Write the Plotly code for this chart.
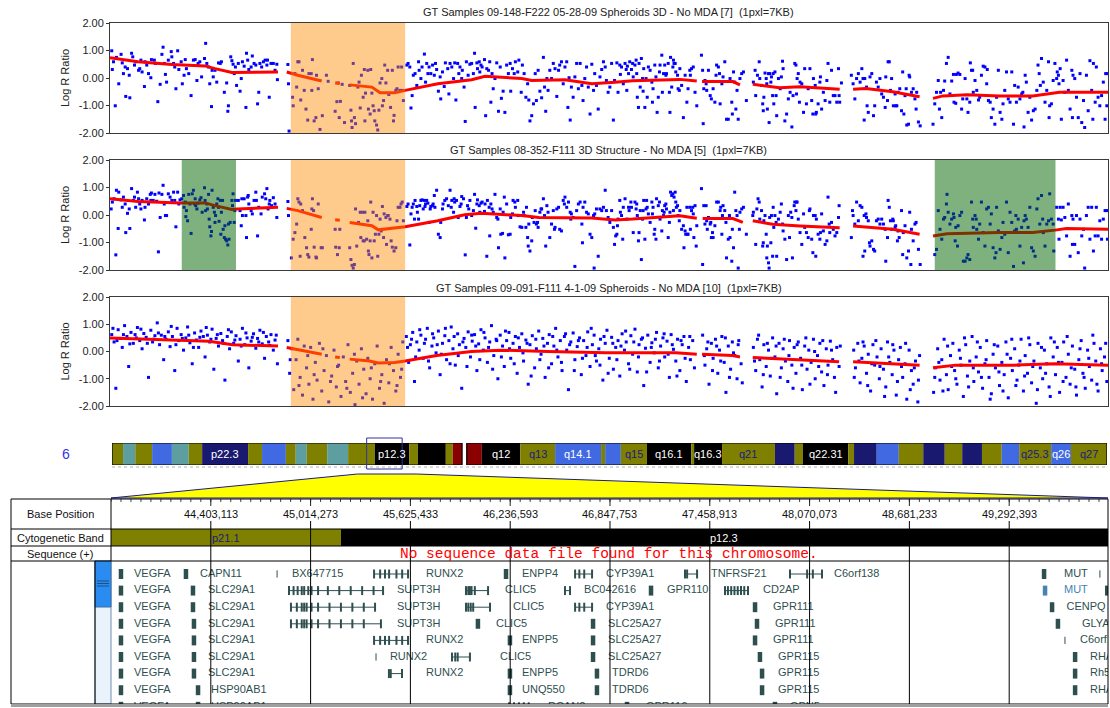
import plotly.graph_objects as go

W, H = 1110, 708


def fx(px):
    return px / W


def fy(py):
    return 1 - py / H


FONT = "Liberation Sans, Arial, sans-serif"
CHROM_LEN = 171.1          # chromosome 6, Mb
VIEW_START = 43.791953     # zoomed window, Mb
VIEW_END = 49.8975
TICK_FIRST = 44403113      # base-position ruler, bp
TICK_STEP = 611160
N_TICKS = 9

sample_titles = [
    "GT Samples 09-148-F222 05-28-09 Spheroids 3D - No MDA [7]\u00a0\u00a0(1pxl=7KB)",
    "GT Samples 08-352-F111 3D Structure - No MDA [5]\u00a0\u00a0(1pxl=7KB)",
    "GT Samples 09-091-F111 4-1-09 Spheroids - No MDA [10]\u00a0\u00a0(1pxl=7KB)",
]

# ---- probe log R ratios: (position Mb, log R) ----
sample1_points = [
    (0.3,0.99),(0.4,0.31),(0.6,0.59),(0.9,-1.01),(1.1,0.75),(1.5,-0.21),(1.9,0.86),(2.1,0.55),(2.3,0.16),(2.6,0.40),
    (2.7,-0.67),(3.0,0.34),(3.3,0.10),(3.4,-0.72),(3.7,0.90),(3.9,0.77),(4.2,0.47),(4.4,0.59),(4.9,0.28),(5.1,0.34),
    (5.3,0.65),(5.5,0.22),(5.9,-0.31),(6.0,0.59),(6.3,0.47),(6.6,0.16),(7.0,0.01),(7.1,0.67),(7.6,0.65),(7.8,0.53),
    (8.2,-0.86),(8.6,-0.23),(8.9,0.86),(9.1,1.12),(9.3,0.53),(9.5,0.13),(9.7,-0.15),(10.0,0.65),(10.5,0.96),(10.6,0.77),
    (10.9,0.53),(11.1,0.40),(11.3,-0.39),(11.6,0.99),(11.8,0.31),(12.2,0.59),(12.4,-0.21),(12.7,0.10),(12.9,0.67),(13.1,0.34),
    (13.5,0.16),(13.9,-0.64),(14.3,0.65),(14.6,0.67),(14.9,-0.09),(15.1,0.53),(15.4,0.59),(15.7,0.04),(16.2,0.71),(16.4,1.26),
    (16.6,0.53),(16.9,0.40),(17.1,-0.21),(17.4,-1.04),(17.5,0.28),(17.7,0.04),(18.0,0.28),(18.3,-0.15),(18.6,0.55),(18.9,0.53),
    (19.1,0.59),(19.6,-0.52),(20.0,-0.18),(20.2,-1.21),(20.3,-1.01),(20.7,0.77),(20.9,0.63),(21.1,0.50),(21.3,0.16),(21.5,0.40),
    (21.7,-0.27),(22.0,0.53),(22.3,-0.48),(22.5,-0.02),(22.7,0.59),(23.0,0.43),(23.3,-1.07),(23.4,0.90),(23.6,0.65),(23.8,0.31),
    (24.2,0.40),(24.4,0.80),(24.7,0.53),(25.0,0.47),(25.3,-0.94),(25.5,-0.52),(25.7,0.53),(26.0,0.40),(26.3,0.59),(26.6,0.65),
    (26.9,0.47),(27.0,0.65),(27.3,-0.70),(27.6,0.53),(28.0,0.53),(28.3,0.28),(28.6,0.50),(28.7,-0.06),
    (30.5,0.49),(30.6,-0.21),(30.7,-1.93),(31.3,-0.70),(31.4,-1.01),(31.7,0.16),(32.0,-0.33),(32.2,0.59),(32.4,0.59),(32.7,-0.80),
    (33.0,0.28),(33.3,-0.45),(33.6,-1.13),(33.9,-1.53),(34.1,0.16),(34.5,0.16),(34.6,-0.45),(34.7,0.67),(35.0,-1.56),(35.3,-1.44),
    (35.4,0.10),(35.7,-0.39),(36.0,-1.87),(36.4,-1.37),(37.1,0.10),(37.4,-0.12),(38.6,-1.21),(38.9,-0.86),(39.1,-0.18),(39.3,-1.44),
    (39.5,-0.85),(39.8,-0.23),(40.2,-1.62),(41.1,-0.27),(41.3,-1.17),(41.4,-1.56),(41.5,-1.80),(41.7,0.53),(41.9,-1.44),(42.1,-1.66),
    (42.5,-0.33),(42.7,-0.15),(42.9,-1.09),(43.1,0.10),(43.4,-0.70),(43.6,0.31),(43.7,-1.56),(43.8,-0.55),(44.2,0.28),(44.3,-1.13),
    (44.6,-1.31),(44.7,0.31),(44.9,-0.55),(45.1,-1.01),(45.3,-1.19),(45.4,-1.56),(45.7,-1.71),(45.9,-1.89),(46.1,-1.17),(46.3,-0.18),
    (46.6,-0.02),(46.7,-1.01),(46.9,-0.82),(47.1,0.47),(47.3,-0.18),(47.6,0.28),(47.8,-0.60),(48.1,-1.07),(48.4,0.28),(48.6,-1.56),
    (48.7,-1.36),(49.0,-0.45),(49.2,-0.39),(49.4,0.40),(49.7,-0.45),(50.0,0.40),(50.1,-0.45),(50.3,-0.82),
    (50.9,0.47),(51.1,0.53),(51.4,0.40),(51.6,-1.09),(51.8,-0.64),(52.0,0.10),(52.3,0.16),(52.6,-0.27),(52.9,0.59),(53.0,0.28),
    (53.3,-0.02),(53.5,0.40),(53.9,0.87),(54.1,-0.15),(54.3,0.53),(54.5,0.16),(54.7,0.40),(55.0,0.16),(55.3,0.47),(55.6,0.10),
    (55.8,0.53),(56.0,0.31),(56.3,-0.48),(56.6,0.04),(56.7,-0.76),(57.0,0.22),(57.3,-0.31),(57.5,0.55),(57.9,0.34),(58.1,-0.58),
    (58.3,0.53),(58.6,0.40),(58.9,-0.02),(59.1,0.55),(59.3,-0.80),(59.6,0.53),(59.8,0.16),(60.0,0.40),(60.3,-0.02),(60.4,0.28),
    (60.7,-0.33),(60.9,-1.58),(61.1,0.59),(61.4,0.10),(61.7,0.50),(62.0,0.53),(62.3,0.16),(62.5,0.90),(62.6,-1.07),(62.9,0.55),
    (63.0,0.34),(63.3,0.59),(63.4,0.22),(63.6,0.47),(63.8,0.40),(64.2,0.67),(64.4,-1.37),(64.6,0.34),(64.9,0.28),(65.1,0.59),
    (65.3,-0.88),(65.5,0.16),(65.7,-0.39),(66.0,-0.02),(66.3,0.55),(66.6,-1.21),(66.9,0.40),(67.1,-0.74),(67.4,-0.48),(67.7,-1.25),
    (68.0,0.47),(68.3,0.16),(68.6,0.53),(68.7,-0.48),(69.0,0.34),(69.3,0.16),(69.5,0.59),(69.9,0.22),(70.1,0.65),(70.5,-0.52),
    (70.7,0.47),(71.0,0.16),(71.3,-0.70),(71.6,-0.21),(71.8,-0.80),(72.0,-1.56),(72.3,-1.37),(72.6,-0.94),(72.9,0.16),(73.1,-0.82),
    (73.4,0.28),(73.7,-0.48),(74.0,-0.72),(74.3,0.75),(74.5,-0.33),(74.7,-1.21),(74.9,-0.02),(75.1,-0.45),(75.4,0.28),(75.7,-0.02),
    (76.0,0.53),(76.3,0.34),(76.6,-0.67),(76.9,0.28),(77.1,0.47),(77.4,0.59),(77.7,-0.21),(78.0,0.40),(78.3,0.59),(78.5,-1.07),
    (78.7,0.01),(78.9,-1.53),(79.1,-0.33),(79.4,-0.70),(79.7,0.04),(80.0,0.53),(80.3,-0.39),(80.6,0.53),(80.9,-0.27),(81.1,-0.82),
    (81.4,-0.02),(81.7,0.40),(82.0,-0.33),(82.3,-1.31),(82.6,0.50),(82.9,-0.45),(83.1,0.16),(83.4,-0.27),(83.7,-1.13),(84.0,0.04),
    (84.3,0.31),(84.6,0.59),(84.9,0.40),(85.1,-0.09),(85.4,-0.52),(85.7,-0.33),(86.0,0.53),(86.3,-1.53),(86.5,-0.09),
    (86.9,0.55),(87.1,-0.52),(87.4,0.47),(87.5,0.13),(87.7,0.40),(88.0,-0.21),(88.3,0.53),(88.5,0.31),(88.6,-0.45),(88.7,0.43),
    (88.9,0.16),(89.1,0.59),(89.4,0.31),(89.6,0.53),(89.7,0.04),(90.0,0.47),(90.2,0.65),(90.3,0.16),(90.4,-0.70),(90.6,-1.07),
    (90.7,0.53),(90.9,-0.33),(91.1,0.71),(91.3,-0.02),(91.4,-0.48),(91.5,0.34),(91.7,-1.07),(91.9,-0.02),(92.1,-0.70),(92.3,0.40),
    (92.6,0.28),(92.9,-0.15),(93.0,-0.88),(93.1,-0.39),(93.4,0.47),(93.6,0.04),(93.8,-1.25),(94.0,-0.70),(94.2,0.22),(94.3,0.47),
    (94.6,0.83),(94.7,-0.52),(94.9,0.16),(95.1,0.47),(95.3,0.10),(95.4,0.16),(95.7,0.53),(95.9,-0.52),(96.0,-1.25),(96.1,0.75),
    (96.3,-0.33),(96.5,0.40),(96.6,0.65),(96.7,0.53),(96.9,0.53),(97.0,0.22),(97.3,0.10),(97.4,-0.39),(97.6,-0.45),(97.7,0.34),
    (98.0,-0.27),(98.3,-1.44),(98.6,0.10),(98.9,-0.88),(99.1,-0.39),(99.4,0.28),(99.5,0.10),(99.7,0.34),(100.0,0.40),(100.3,-0.52),
    (100.6,-1.01),(101.4,0.83),(101.6,0.28),(101.7,-1.66),(101.8,-0.39),(102.0,-0.09),(102.2,-0.21),(102.3,-0.45),(102.6,0.28),(102.9,-0.64),
    (103.1,-0.76),(103.4,-0.39),(103.7,-0.88),(103.9,0.10),(104.0,0.47),(104.3,0.40),(104.5,0.16),(104.6,-0.94),(104.9,-0.21),(105.1,0.04),
    (105.4,0.59),(105.7,-1.50),(106.0,-1.50),(106.3,-0.02),(106.6,-0.88),(106.7,-1.31),(106.9,0.22),(107.1,-0.15),(107.3,-1.13),(107.5,-0.45),
    (107.7,-1.50),(108.0,-0.02),(108.3,0.16),(108.6,0.22),(109.1,-0.82),(110.3,-0.15),(110.6,0.28),(110.7,-0.64),(111.0,0.10),(111.3,0.59),
    (111.4,-0.02),(111.7,-0.27),(111.9,-0.94),(112.0,-1.19),(112.1,-0.70),(112.3,0.18),(112.5,-0.02),(112.6,-0.21),(112.7,-1.13),(112.9,0.16),
    (113.0,-1.62),(113.1,0.16),(113.3,-0.15),(113.4,0.04),(113.6,-0.64),(113.7,0.16),(113.8,-0.94),(114.0,0.22),(114.2,-0.64),(114.3,-1.37),
    (114.6,-0.02),(114.9,-0.39),(115.1,0.04),(115.3,0.61),(115.4,0.34),(115.7,-1.56),(116.0,-1.31),(116.3,-0.76),(116.6,-0.52),(116.9,-1.78),
    (117.1,-0.64),(117.4,0.53),(117.6,0.47),(117.7,-0.58),(117.8,-0.02),(118.0,0.16),(118.2,-0.88),(118.3,-0.15),(118.6,-0.21),(118.9,-1.25),
    (119.1,0.34),(119.4,-0.94),(119.7,-0.39),(120.0,0.34),(120.3,-0.82),(120.5,-1.31),(120.6,-0.02),(120.9,-0.27),(121.0,-1.31),(121.1,-1.25),
    (121.4,-0.94),(121.7,-0.15),(121.8,0.04),(122.0,-1.13),(122.3,-0.52),(122.6,-0.82),(122.9,-0.09),(123.1,0.53),(123.4,-0.88),(123.7,0.28),
    (124.0,-0.64),(124.3,-0.64),(124.6,-0.88),(124.9,0.34),(125.0,-0.64),(125.1,-0.88),(125.4,-0.18),
    (127.1,0.10),(127.4,-0.21),(127.7,-0.76),(128.0,-0.02),(128.3,0.16),(128.6,-0.15),(128.9,0.34),(129.1,-0.02),(129.3,-1.53),(129.4,-0.02),
    (129.7,-0.33),(129.8,-1.01),(130.0,-1.25),(130.3,0.04),(130.6,0.16),(130.9,-1.37),(131.1,-1.01),(131.4,-0.15),(131.7,-0.33),(132.0,-0.02),
    (132.3,-0.58),(132.6,-0.70),(132.9,-1.07),(133.0,0.04),(133.3,-0.82),(133.4,0.59),(133.6,0.59),(133.8,-0.45),(134.0,-0.02),(134.3,-1.01),
    (134.6,-0.58),(134.7,-1.01),(134.9,-1.01),(135.1,-0.52),(135.4,-0.39),(135.7,-1.19),(135.9,0.22),(136.1,-1.31),(136.3,-0.64),(136.5,-0.39),
    (136.6,-1.71),(136.9,-1.68),(137.0,0.10),(137.1,0.04),(137.4,-0.52),(137.7,-0.39),(138.0,-0.76),(138.2,-1.13),(138.3,-0.52),(138.6,-1.60),
    (138.9,-1.74),(141.1,-1.68),(141.4,-0.94),(141.7,-0.52),(142.0,-0.09),(142.2,-1.13),(142.4,-0.52),(142.6,-1.44),(142.9,-0.45),(143.1,-0.11),
    (143.4,0.53),(143.7,0.75),(144.0,-0.58),(144.3,-0.11),(144.6,0.13),(144.7,-0.88),(145.0,-0.92),(145.1,0.13),(145.4,0.18),(145.7,0.13),
    (146.0,-1.13),(146.2,-0.76),(146.6,-0.02),(146.9,-0.76),(147.1,-1.25),(147.4,-0.88),(147.5,0.55),(147.7,0.28),(147.9,0.28),(148.0,-0.52),
    (148.3,-0.09),(148.6,-0.45),(148.9,-0.80),(149.1,-0.70),(149.4,0.10),(149.7,0.43),(150.0,0.40),(150.3,-0.21),(150.4,0.31),(150.6,-0.82),
    (150.9,-0.88),(151.1,-1.44),(151.4,-1.13),(151.7,-1.68),(152.0,-0.70),(152.3,0.28),(152.6,-1.25),(152.9,-1.50),(153.1,-0.94),(153.4,-0.45),
    (153.7,0.22),(154.0,-0.76),(154.3,-0.88),(154.6,0.22),(154.9,-1.68),(155.1,-0.27),(155.4,-0.88),(155.7,-0.33),(156.0,-0.76),(156.3,-0.58),
    (156.5,-0.52),(156.7,-1.78),(156.9,0.10),(157.1,-0.15),(157.4,-1.25),(157.7,-0.70),(158.0,-1.53),(158.3,-1.19),(158.6,-1.13),(158.9,-0.45),
    (159.1,0.47),(159.3,0.16),(159.5,-0.27),(159.7,0.71),(160.0,-0.15),(160.3,-0.88),(160.6,-0.45),(160.9,0.59),(161.0,-1.44),(161.1,-1.01),
    (161.4,-0.94),(161.7,-0.09),(162.0,0.53),(162.3,-0.02),(162.4,0.22),(162.6,0.10),(162.7,-0.21),(162.9,0.34),(163.1,-1.50),(163.4,-0.09),
    (163.7,-0.52),(164.0,0.65),(164.3,-0.45),(164.6,-1.13),(164.9,0.28),(165.0,-1.44),(165.1,0.10),(165.4,-0.02),(165.7,-0.70),(166.0,-1.44),
    (166.3,0.16),(166.6,-1.62),(166.9,-0.82),(167.1,-1.80),(167.4,0.10),(167.7,-1.19),(168.0,0.63),(168.3,-0.45),(168.5,-1.50),(168.6,0.53),
    (168.9,-0.88),(169.1,0.40),(169.4,-0.70),(169.7,-1.01),(170.0,-0.64),(170.3,-0.15),(170.6,-1.50),(170.7,0.16),(170.9,-1.01),(171.0,0.16),
]

sample2_points = [
    (0.2,0.22),(0.4,0.47),(0.7,0.59),(1.0,-1.45),(1.1,0.90),(1.4,-0.49),(1.5,0.83),(1.9,0.55),(2.1,0.28),(2.3,0.65),
    (2.6,0.40),(2.7,-0.64),(3.0,0.06),(3.3,0.22),(3.4,-0.49),(3.7,0.96),(4.0,0.53),(4.2,0.65),(4.4,0.28),(4.7,0.83),
    (4.9,0.59),(5.1,0.40),(5.3,0.22),(5.5,0.53),(5.9,-0.18),(6.0,0.28),(6.3,0.59),(6.6,0.40),(6.9,0.75),(7.0,0.53),
    (7.1,0.80),(7.4,0.53),(7.7,0.75),(8.0,0.50),(8.3,-1.34),(8.4,0.80),(8.6,-0.09),(8.9,0.75),(9.1,1.08),(9.3,0.40),
    (9.5,-0.02),(9.7,-0.02),(10.0,0.77),(10.3,0.65),(10.6,0.53),(10.9,0.83),(11.1,0.53),(11.3,-0.43),(11.6,0.83),(11.8,0.40),
    (12.0,0.55),(12.3,0.59),(12.6,0.71),(12.7,0.28),(12.9,0.47),(13.0,-0.06),(13.1,0.16),(13.3,-0.21),(13.5,0.75),(13.7,0.40),
    (13.9,-0.67),(14.1,0.77),(14.3,0.90),(14.5,0.40),(14.6,0.59),(14.7,0.34),(14.9,0.22),(15.1,0.43),(15.4,0.55),(15.6,0.63),
    (15.8,0.10),(16.2,0.99),(16.3,0.53),(16.4,0.16),(16.6,0.40),(16.7,0.22),(16.9,0.75),(17.0,-0.15),(17.1,-0.43),(17.3,-0.76),
    (17.4,-0.60),(17.5,0.90),(17.7,0.28),(17.9,0.10),(18.0,-0.27),(18.1,-0.02),(18.3,0.40),(18.5,0.59),(18.6,0.28),(18.7,-0.23),
    (18.9,0.53),(19.0,-0.70),(19.1,0.10),(19.3,0.53),(19.4,-0.52),(19.6,-0.82),(19.7,-0.39),(19.8,-0.88),(20.0,-0.94),(20.2,-1.09),
    (20.3,-0.33),(20.4,-0.88),(20.6,-0.27),(20.9,0.53),(21.0,0.34),(21.1,0.77),(21.3,-0.27),(21.4,0.16),(21.5,0.53),
    (22.0,0.53),(22.3,0.16),(22.5,-0.39),(22.6,0.59),(22.7,-0.02),(23.0,0.59),(23.3,-0.02),(23.4,-0.82),(23.6,0.65),(23.7,0.71),
    (23.8,0.40),(24.2,0.16),(24.4,0.04),(24.7,0.53),(25.0,0.83),(25.1,0.53),(25.3,-0.76),(25.5,0.28),(25.9,0.04),(26.1,0.65),
    (26.5,0.77),(26.7,0.59),(26.9,0.96),(27.1,0.22),(27.3,0.40),(27.4,0.53),(27.7,0.34),(28.0,0.63),(28.3,0.40),(28.6,-0.09),
    (30.5,0.49),(30.6,-0.02),(31.1,-1.56),(31.4,-0.88),(31.7,-0.64),(32.0,-0.33),(32.2,0.59),(32.4,0.47),(32.6,-1.50),(32.7,0.40),
    (33.0,0.16),(33.4,-0.82),(33.7,-1.19),(33.9,-1.44),(34.1,-1.53),(34.5,-0.52),(34.6,0.22),(34.7,0.59),(34.9,0.16),(35.0,-1.17),
    (35.3,-1.53),(35.4,-1.56),(35.7,0.40),(36.2,-1.19),(36.4,-1.19),(38.6,-0.52),(38.7,-1.17),(39.0,-1.44),(39.3,-1.19),(39.4,-0.52),
    (41.1,-1.19),(41.3,-1.62),(41.5,-1.83),(41.7,-1.93),(41.9,-1.80),(42.1,0.22),(42.3,-1.13),(42.6,-0.27),(42.9,0.10),(43.0,-0.82),
    (43.3,0.10),(43.4,-0.94),(43.6,-0.94),(43.7,0.10),(44.0,-0.88),(44.2,-0.21),(44.3,-1.31),(44.4,-1.44),(44.6,-0.94),(44.7,0.47),
    (44.9,-1.56),(45.1,0.10),(45.3,-0.94),(45.5,-0.70),(45.7,-0.02),(45.9,-1.50),(46.1,-0.70),(46.3,-0.15),(46.5,-0.58),(46.7,0.31),
    (46.9,-0.82),(47.0,0.04),(47.3,-0.09),(47.4,-1.07),(47.6,-0.02),(47.7,-0.02),(48.0,-0.15),(48.2,-0.94),(48.4,-1.17),(48.7,-1.31),
    (49.0,-1.19),(49.2,-0.21),(49.4,0.28),(49.7,0.28),(49.9,0.40),(50.1,0.47),(50.3,-0.21),
    (50.9,0.31),(51.1,0.40),(51.4,-1.09),(51.6,0.04),(51.8,0.28),(52.0,0.40),(52.2,-0.15),(52.3,0.53),(52.6,0.31),(52.7,0.10),
    (52.9,-0.15),(53.1,0.34),(53.3,0.53),(53.5,0.55),(53.7,0.22),(53.9,0.53),(54.0,0.31),(54.1,0.40),(54.3,0.53),(54.5,0.43),
    (54.7,-0.27),(54.9,0.22),(55.0,0.31),(55.3,0.34),(55.4,0.40),(55.6,0.71),(55.7,0.28),(56.0,0.90),(56.3,-0.70),(56.6,-0.82),
    (56.7,-0.27),(57.0,0.22),(57.1,0.40),(57.4,0.53),(57.7,0.59),(58.0,0.34),(58.3,0.90),(58.5,0.28),(58.6,0.53),(58.9,0.10),
    (59.0,0.59),(59.1,0.47),(59.4,0.53),(59.7,-0.09),(60.0,0.31),(60.2,0.40),(60.3,0.67),(60.6,0.59),(60.9,-1.45),(61.1,-0.09),
    (61.3,0.34),(61.5,0.22),(61.7,0.53),(62.0,-0.02),(62.3,0.16),(62.5,0.75),(62.7,-0.48),(62.9,0.40),(63.0,0.55),(63.3,0.34),
    (63.4,0.10),(63.6,0.43),(63.8,0.47),(64.2,0.13),(64.3,0.40),(64.6,-1.50),(64.7,0.53),(65.0,0.28),(65.1,-0.76),(65.3,0.40),
    (65.5,0.22),(65.7,0.10),(66.0,0.75),(66.3,-0.09),(66.5,-0.15),(66.6,-1.19),(66.9,0.22),(67.0,-0.70),(67.3,-0.67),(67.4,0.10),
    (67.6,0.65),(67.7,-1.56),(68.0,0.40),(68.3,-0.72),(68.6,-0.70),(68.7,-0.09),(69.0,0.04),(69.1,0.53),(69.4,0.47),(69.5,0.28),
    (69.9,0.53),(70.0,-0.02),(70.3,-0.43),(70.6,-0.45),(70.9,0.10),(71.0,-0.02),(71.3,-0.45),(71.4,0.28),(71.6,-0.82),(71.7,-1.13),
    (71.8,-0.33),(72.0,-1.31),(72.3,-0.94),(72.4,-0.09),(72.7,-0.27),(72.9,0.16),(73.1,-0.33),(73.3,-0.27),(73.4,-0.45),(73.7,0.10),
    (73.9,0.22),(74.0,0.22),(74.3,0.59),(74.5,-0.02),(74.7,-1.13),(74.9,0.34),(75.1,0.10),(75.4,-0.82),(75.7,-0.33),(76.0,0.16),
    (76.2,-0.52),(76.3,-0.45),(76.6,0.22),(76.9,0.28),(77.1,-0.52),(77.4,-0.58),(77.7,0.53),(77.9,0.40),(78.0,0.65),(78.3,0.28),
    (78.6,0.47),(78.9,0.10),(79.0,-0.15),(79.1,0.04),(79.4,-0.09),(79.7,-1.87),(80.0,0.16),(80.3,0.40),(80.6,0.47),(80.9,-0.33),
    (81.0,-1.01),(81.1,0.28),(81.4,0.47),(81.7,0.10),(82.0,0.04),(82.3,-0.70),(82.6,-0.82),(82.9,-0.02),(83.0,-1.93),(83.1,0.04),
    (83.4,0.22),(83.7,-1.50),(84.0,0.22),(84.3,0.16),(84.6,0.28),(84.9,0.90),(85.1,0.16),(85.4,-0.09),(85.7,-0.27),(86.0,0.16),
    (86.3,-0.45),(86.5,-1.07),(86.7,-0.76),(86.9,-0.70),(87.0,-0.39),(87.1,-0.15),(87.4,0.53),(87.5,0.10),(87.7,-0.02),(87.9,-0.88),
    (88.0,0.28),(88.3,0.59),(88.6,-0.15),(88.9,0.28),(89.0,0.16),(89.3,0.47),(89.4,0.28),(89.7,-0.64),(90.0,0.47),(90.2,0.22),
    (90.3,0.40),(90.4,-0.02),(90.6,-0.94),(90.7,-0.64),(90.9,0.16),(91.1,-1.62),(91.3,-0.15),(91.4,0.16),(91.5,0.53),(91.7,-0.88),
    (91.9,0.22),(92.0,0.53),(92.1,0.28),(92.3,0.04),(92.6,-0.27),(92.9,0.47),(93.0,0.04),(93.1,0.28),(93.3,-0.70),(93.4,-0.52),
    (93.6,-0.88),(93.7,0.59),(94.0,0.34),(94.2,0.47),(94.3,-0.15),(94.6,-0.58),(94.7,0.16),(94.9,-0.02),(95.0,0.10),(95.1,0.34),
    (95.3,0.40),(95.4,0.22),(95.7,-0.82),(95.9,-0.27),(96.0,0.10),(96.1,0.83),(96.3,0.71),(96.5,0.77),(96.6,0.16),(96.7,0.65),
    (96.9,0.83),(97.0,0.47),(97.1,0.28),(97.3,0.34),(97.4,-0.02),(97.6,-0.21),(97.7,0.16),(98.0,-0.52),(98.3,-0.39),(98.4,-1.19),
    (98.6,-0.58),(98.7,-0.70),(98.9,0.28),(99.0,-0.70),(99.1,-0.70),(99.4,0.28),(99.5,-0.52),(99.7,0.16),(99.9,0.28),(100.0,0.04),
    (100.1,-0.82),(100.3,0.34),(100.5,-1.13),(100.6,-0.39),(101.4,0.96),(101.6,-1.80),(101.8,0.34),(102.0,-0.33),(102.2,0.34),(102.3,-0.21),
    (102.4,-0.52),(102.6,-0.09),(102.9,-0.33),(103.0,-0.27),(103.1,-0.82),(103.3,-0.64),(103.4,-0.82),(103.7,-0.39),(104.0,0.47),(104.3,0.47),
    (104.6,0.16),(104.7,0.28),(104.9,-0.70),(105.0,-0.02),(105.1,0.34),(105.4,0.16),(105.6,-0.27),(105.7,-1.56),(106.0,-0.88),(106.2,-0.02),
    (106.3,-0.82),(106.6,-1.68),(106.7,-0.52),(106.9,-1.19),(107.1,0.83),(107.3,0.16),(107.5,-0.02),(107.7,-1.93),(107.9,-0.52),(108.0,0.10),
    (108.3,0.22),(108.6,0.28),(109.1,-0.70),(110.2,-0.02),(110.3,0.10),(110.7,-1.07),(110.9,0.22),(111.1,0.59),(111.3,0.47),(111.4,-0.15),
    (111.7,0.16),(111.9,-1.13),(112.0,-1.01),(112.1,-0.21),(112.3,-0.02),(112.5,-0.70),(112.6,-1.56),(112.7,-1.13),(112.9,-1.74),(113.0,-1.93),
    (113.1,-0.09),(113.3,-1.01),(113.4,-0.02),(113.6,-1.50),(113.7,0.28),(113.8,-0.45),(114.0,-0.02),(114.2,-0.27),(114.3,-1.50),(114.6,-0.15),
    (114.9,0.10),(115.1,0.40),(115.3,-0.33),(115.4,-0.58),(115.7,-0.88),(116.0,-1.62),(116.3,-0.02),(116.5,-0.82),(116.7,0.10),(116.9,-0.09),
    (117.0,-1.56),(117.3,0.34),(117.4,0.47),(117.6,0.16),(117.7,0.47),(117.8,0.47),(118.0,-0.15),(118.3,-0.64),(118.6,-1.07),(118.9,0.04),
    (119.1,-0.45),(119.4,-0.64),(119.7,-0.82),(119.9,0.16),(120.0,0.22),(120.3,-0.88),(120.5,-1.37),(120.6,-0.02),(120.9,-0.02),(121.0,-1.50),
    (121.1,-0.15),(121.4,-0.70),(121.7,-0.88),(121.8,-0.64),(122.0,0.04),(122.3,-0.58),(122.6,-1.07),(122.9,-0.94),(123.1,0.65),(123.3,-0.33),
    (123.4,-0.64),(123.7,-0.27),(124.0,-0.52),(124.3,-0.76),(124.6,-0.64),(124.9,-0.09),(125.0,0.34),
    (127.1,-0.82),(127.3,0.16),(127.4,-0.02),(127.7,-0.33),(128.0,0.47),(128.3,-0.21),(128.6,0.34),(128.9,0.28),(129.1,-1.50),(129.3,-0.02),
    (129.4,-1.31),(129.6,0.04),(129.7,-0.09),(130.0,-0.21),(130.2,-1.01),(130.3,-1.13),(130.6,-0.94),(130.9,-1.25),(131.1,-1.31),(131.4,-0.21),
    (131.7,-0.15),(132.0,-0.33),(132.3,-0.15),(132.6,-0.33),(132.9,-0.52),(133.0,-1.68),(133.3,-0.82),(133.4,0.53),(133.6,0.28),(133.8,-0.21),
    (134.0,-0.52),(134.2,-0.15),(134.3,-0.21),(134.6,-0.45),(134.7,-0.39),(135.0,-0.94),(135.1,-0.58),(135.3,-0.82),(135.7,0.16),(135.9,-1.44),
    (136.0,-0.64),(136.3,-0.39),(136.6,-1.56),(136.9,-1.31),(137.1,0.10),(137.3,-1.80),(137.4,-0.52),(137.7,-0.94),(138.0,-0.33),(138.2,-0.27),
    (138.6,-1.25),(138.9,-1.80),
    (141.4,-1.44),(141.7,-1.25),(142.0,0.16),(142.3,-0.52),(142.6,-0.88),(142.9,-0.15),(143.1,-0.09),(143.4,0.40),(143.5,0.75),(143.7,0.10),
    (144.0,-0.33),(144.3,-0.15),(144.6,0.04),(144.7,-0.09),(144.9,-0.94),(145.0,-0.45),(145.3,-1.13),(145.4,-0.39),(145.7,-0.02),(146.0,0.10),
    (146.3,-1.68),(146.6,-1.68),(146.9,-1.56),(147.1,-1.44),(147.4,-1.62),(147.7,0.47),(147.9,-0.15),(148.0,-0.45),(148.3,-0.02),(148.5,-0.15),
    (148.6,-0.52),(148.9,-0.88),(149.1,-0.33),(149.4,0.47),(149.7,-0.64),(150.0,-1.13),(150.3,0.22),(150.6,0.28),(150.9,-0.33),(151.1,0.04),
    (151.4,-1.19),(151.7,-1.56),(151.9,-1.37),(152.0,0.28),(152.3,-0.58),(152.6,-1.25),(152.9,-0.82),(153.1,-0.27),(153.4,-0.70),(153.7,0.47),
    (154.0,-1.37),(154.3,0.10),(154.6,-0.27),(154.9,-1.87),(155.1,-0.58),(155.3,-0.02),(155.4,-0.52),(155.7,-0.15),(156.0,-1.13),(156.3,-0.45),
    (156.6,-1.74),(156.7,-0.21),(156.9,-0.02),(157.1,-0.15),(157.4,-0.45),(157.7,0.28),(158.0,-1.19),(158.3,-1.31),(158.6,-1.50),(158.9,0.22),
    (159.1,0.59),(159.4,-0.33),(159.7,0.71),(159.9,-0.15),(160.0,-0.64),(160.3,-1.13),(160.6,-0.33),(160.9,-0.21),(161.1,0.77),(161.4,-0.15),
    (161.7,-0.33),(161.8,-1.31),(162.3,0.28),(162.6,-0.15),(162.7,-0.88),(162.9,0.28),(163.1,-0.18),(163.4,0.28),(163.7,-0.09),(164.0,-0.76),
    (164.3,0.40),(164.6,-1.50),(164.9,-0.02),(165.0,-1.07),(165.1,-0.15),(165.4,-1.07),(165.7,-0.02),(166.0,-1.37),(166.3,-0.15),(166.6,-0.76),
    (166.9,-0.52),(167.1,-1.93),(167.4,-0.02),(167.7,0.28),(168.0,-0.88),(168.3,0.28),(168.6,-1.31),(168.9,-0.76),(169.1,0.28),(169.4,-0.76),
    (169.7,-0.21),(170.0,-0.88),(170.3,-0.15),(170.6,0.16),(170.9,0.16),(171.0,-0.88),
]

sample3_points = [
    (0.3,0.62),(0.7,0.35),(1.0,-1.35),(1.4,0.80),(1.8,0.48),(2.1,0.15),(2.5,0.95),(2.9,0.55),(3.2,-0.55),(3.6,0.70),
    (4.0,0.30),(4.3,0.62),(4.7,0.88),(5.1,0.40),(5.5,0.10),(5.8,0.66),(6.2,0.52),(6.6,-0.95),(7.0,0.78),(7.3,0.35),
    (7.7,0.58),(8.1,1.05),(8.5,0.25),(8.8,0.60),(9.2,-0.30),(9.6,0.45),(10.0,0.72),(10.3,0.18),(10.7,0.55),(11.1,-0.70),
    (11.5,0.85),(11.8,0.40),(12.2,0.62),(12.6,0.05),(13.0,0.50),(13.3,0.90),(13.7,0.32),(14.1,-0.45),(14.5,0.68),(14.8,0.42),
    (15.2,0.15),(15.6,0.75),(16.0,0.55),(16.3,-0.20),(16.7,0.60),(17.1,0.35),(17.5,0.82),(17.8,-0.65),(18.2,0.48),(18.6,0.20),
    (19.0,0.66),(19.3,0.40),(19.7,-1.05),(20.1,0.55),(20.5,0.10),(20.8,0.72),(21.2,0.30),(21.6,0.58),(22.0,-0.35),(22.3,0.45),
    (22.7,0.85),(23.1,0.25),(23.5,0.50),(23.8,-0.60),(24.2,0.38),(24.6,0.65),(25.0,0.12),(25.3,0.48),(25.7,0.78),(26.1,0.28),
    (26.5,-0.25),(26.8,0.55),(27.2,0.35),(27.6,0.62),(28.0,0.05),(28.3,0.42),(28.7,-0.45),
    (0.5,0.85),(1.2,0.40),(2.3,0.62),(3.4,0.28),(4.5,0.50),(5.3,0.82),(6.4,0.30),(7.5,0.45),(8.3,0.68),(9.4,0.55),
    (10.5,0.92),(11.3,0.25),(12.4,0.48),(13.5,0.60),(14.3,0.15),(15.4,0.52),(16.5,0.88),(17.3,0.45),(18.4,0.62),(19.5,0.30),
    (20.3,0.80),(21.4,0.42),(22.5,0.20),(23.3,0.68),(24.4,0.52),(25.5,0.35),(26.3,0.70),(27.4,0.22),(28.5,0.60),
    (30.5,0.40),(30.8,-0.80),(31.2,0.10),(31.5,-1.40),(31.9,-0.30),(32.2,0.45),(32.6,-0.95),(33.0,-1.60),(33.3,0.20),(33.7,-0.60),
    (34.1,-1.20),(34.4,0.15),(34.8,-1.75),(35.2,-0.40),(35.5,-1.05),(35.9,0.30),(36.3,-1.45),(36.7,-0.70),(37.1,-0.15),(37.5,-1.85),
    (38.0,-0.90),(38.4,0.05),(38.8,-1.30),(39.2,-0.50),(39.6,-1.65),(40.0,-0.20),(40.4,-1.10),(40.8,0.25),(41.2,-1.50),(41.6,-0.80),
    (42.0,-1.95),(42.3,-0.35),(42.7,-1.20),(43.1,0.10),(43.5,-0.65),(43.9,-1.55),(44.2,-0.25),(44.6,-1.00),(45.0,-1.75),(45.4,-0.45),
    (45.8,0.20),(46.2,-1.35),(46.6,-0.85),(47.0,-1.90),(47.4,-0.30),(47.8,-1.15),(48.2,0.15),(48.6,-0.70),(49.0,-1.45),(49.4,-0.10),
    (49.8,-0.95),(50.2,0.35),
    (30.9,-0.30),(32.4,-1.25),(33.9,-0.15),(35.0,-0.85),(36.5,0.10),(37.8,-1.10),(39.0,-0.55),(40.6,-1.35),(41.9,-0.10),(43.3,-1.70),
    (44.8,-0.60),(46.4,-1.10),(47.9,-0.45),(49.2,-1.25),(50.0,-0.65),
    (50.8,0.55),(51.2,-0.40),(51.5,0.25),(51.9,0.70),(52.2,-1.10),(52.6,0.35),(53.0,0.05),(53.3,0.60),(53.7,-0.25),(54.1,0.45),
    (54.4,0.85),(54.8,-0.60),(55.2,0.20),(55.5,0.50),(55.9,-0.05),(56.3,0.75),(56.6,-0.85),(57.0,0.30),(57.4,0.58),(57.7,-0.30),
    (58.1,0.40),(58.5,0.90),(58.8,0.10),(59.2,-0.50),(59.6,0.65),(59.9,0.25),(60.3,-1.35),(60.7,0.48),(61.0,0.15),(61.4,0.72),
    (61.8,-0.20),(62.1,0.38),(62.5,0.62),(62.9,-0.70),(63.2,0.28),(63.6,0.80),(64.0,0.05),(64.3,0.50),(64.7,-0.40),(65.1,0.35),
    (65.4,0.95),(65.8,-0.15),(66.2,0.45),(66.5,-1.00),(66.9,0.60),(67.3,0.20),(67.6,-0.55),(68.0,0.40),(68.4,0.70),(68.7,-0.25),
    (69.1,0.30),(69.5,0.55),(69.8,-0.80),(70.2,0.15),(70.6,0.65),(70.9,-0.35),(71.3,0.42),(71.7,-1.20),(72.0,0.25),(72.4,0.58),
    (72.8,-0.60),(73.1,0.10),(73.5,0.75),(73.9,-0.10),(74.2,0.48),(74.6,-0.95),(75.0,0.30),(75.3,0.62),(75.7,-0.45),(76.1,0.20),
    (76.4,0.85),(76.8,-0.20),(77.2,0.40),(77.5,-0.70),(77.9,0.55),(78.3,0.05),(78.6,-1.40),(79.0,0.35),(79.4,0.68),(79.7,-0.30),
    (80.1,0.18),(80.5,0.50),(80.8,-0.85),(81.2,0.40),(81.6,-0.15),(81.9,0.72),(82.3,-0.55),(82.7,0.25),(83.0,0.60),(83.4,-0.35),
    (83.8,0.10),(84.1,0.45),(84.5,-1.05),(84.9,0.30),(85.2,0.78),(85.6,-0.25),(86.0,0.52),(86.3,-0.65),(86.7,0.15),(87.1,0.40),
    (87.4,-0.90),(87.8,0.65),(88.2,0.05),(88.5,0.35),(88.9,-0.45),(89.3,0.58),(89.6,-0.10),(90.0,0.82),(90.4,-0.75),(90.7,0.25),
    (91.1,0.45),(91.5,-1.25),(91.8,0.12),(92.2,0.60),(92.6,-0.40),(92.9,0.32),(93.3,-0.05),(93.7,0.70),(94.0,-0.60),(94.4,0.20),
    (94.8,0.50),(95.1,-0.20),(95.5,0.38),(95.9,-0.95),(96.2,0.62),(96.6,0.08),(97.0,-0.35),(97.3,0.45),(97.7,-0.70),(98.1,0.25),
    (98.4,0.55),(98.8,-1.10),(99.2,0.15),(99.5,-0.30),(99.9,0.40),
    (51.0,0.15),(51.7,0.45),(52.4,-0.20),(53.1,0.80),(53.9,0.30),(54.6,-0.35),(55.3,0.65),(56.1,0.25),(56.8,-0.10),(57.5,0.85),
    (58.3,-0.45),(59.0,0.55),(59.7,-0.15),(60.5,0.35),(61.2,-0.55),(62.0,0.60),(62.7,0.20),(63.4,-0.30),(64.1,0.70),(64.9,0.15),
    (65.6,-0.65),(66.3,0.40),(67.1,-0.20),(67.8,0.75),(68.5,0.10),(69.3,-0.45),(70.0,0.50),(70.8,-0.05),(71.5,0.30),(72.2,-0.90),
    (73.0,0.45),(73.7,-0.30),(74.4,0.20),(75.2,-0.60),(75.9,0.55),(76.6,0.05),(77.4,-0.40),(78.1,0.65),(78.8,0.25),(79.6,-0.70),
    (80.3,0.40),(81.0,-0.25),(81.8,0.15),(82.5,0.85),(83.2,-0.15),(84.0,-0.50),(84.7,0.55),(85.4,-0.80),(86.2,0.30),(86.9,-0.30),
    (87.6,0.20),(88.4,0.75),(89.1,-0.65),(89.8,0.35),(90.6,-0.20),(91.3,0.50),(92.0,-0.75),(92.8,0.15),(93.5,0.45),(94.2,-0.35),
    (95.0,0.65),(95.7,-0.10),(96.4,0.25),(97.2,-0.90),(97.9,0.40),(98.6,-0.25),(99.4,0.55),(100.2,-0.60),
    (101.6,0.60),(102.0,-0.50),(102.3,0.10),(102.7,-1.20),(103.1,0.30),(103.4,-0.25),(103.8,0.45),(104.2,-0.80),(104.5,0.05),(104.9,0.55),
    (105.3,-0.40),(105.6,-1.50),(106.0,0.20),(106.4,-0.65),(106.7,0.35),(107.1,-0.15),(107.5,-1.00),(107.8,0.40),(108.2,-0.45),(110.3,0.15),
    (110.7,-0.70),(111.0,0.45),(111.4,-0.30),(111.8,-1.30),(112.1,0.25),(112.5,-0.55),(112.9,0.05),(113.2,-0.90),(113.6,0.50),(114.0,-0.20),
    (114.3,-1.55),(114.7,0.30),(115.1,-0.60),(115.4,0.10),(115.8,-0.35),(116.2,-1.10),(116.5,0.40),(116.9,-0.50),(117.3,0.15),(117.6,-0.80),
    (118.0,0.35),(118.4,-0.25),(118.7,-1.40),(119.1,0.20),(119.5,-0.65),(119.8,0.05),(120.2,-0.40),(120.6,0.45),(120.9,-1.00),(121.3,-0.15),
    (121.7,0.30),(122.0,-0.75),(122.4,-1.25),(122.8,0.10),(123.1,-0.50),(123.5,0.38),(123.9,-0.30),(124.2,-0.95),(124.6,0.15),(125.0,-0.55),
    (101.9,-0.15),(102.5,0.35),(103.3,-0.70),(104.0,0.20),(104.7,-0.35),(105.5,0.50),(106.2,-0.95),(106.9,-0.05),(107.7,0.25),(108.4,-1.15),
    (110.5,-0.35),(111.2,0.60),(112.0,-0.85),(112.7,0.30),(113.4,-0.25),(114.2,0.20),(114.9,-0.95),(115.6,0.45),(116.4,-0.15),(117.1,-1.35),
    (117.8,0.25),(118.6,-0.50),(119.3,0.50),(120.0,-1.20),(120.8,0.00),(121.5,-0.55),(122.2,0.40),(123.0,-0.85),(123.7,0.05),(124.4,-1.50),
    (125.2,0.20),
    (127.5,0.05),(127.8,-0.60),(128.2,0.30),(128.6,-1.15),(128.9,-0.25),(129.3,0.20),(129.7,-0.80),(130.0,-0.10),(130.4,-1.45),(130.8,0.25),
    (131.1,-0.50),(131.5,-0.20),(131.9,-1.00),(132.2,0.10),(132.6,-0.65),(133.0,-1.30),(133.3,0.35),(133.7,-0.40),(134.1,-0.85),(134.4,0.05),
    (134.8,-1.60),(135.2,-0.30),(135.5,0.15),(135.9,-0.95),(136.3,-0.45),(136.6,-1.75),(137.0,0.05),(137.4,-0.70),(137.7,-1.20),(138.1,-0.35),
    (138.5,-1.85),(138.8,-0.15),
    (127.6,-0.95),(128.4,-0.35),(129.1,0.35),(129.9,-1.25),(130.6,-0.45),(131.3,0.40),(132.0,-0.55),(132.8,-1.65),(133.5,-0.20),(134.2,0.25),
    (135.0,-1.10),(135.7,-0.55),(136.4,0.30),(137.2,-1.40),(137.9,-0.60),(138.6,-1.05),
    (141.2,-1.50),(141.5,-0.60),(141.9,0.10),(142.3,-1.05),(142.6,-0.30),(143.0,0.45),(143.4,-0.85),(143.7,-1.40),(144.1,-0.15),(144.5,0.30),
    (144.8,-0.70),(145.2,-1.20),(145.6,0.05),(145.9,-0.50),(146.3,-1.65),(146.7,0.25),(147.0,-0.90),(147.4,-0.35),(147.8,0.55),(148.1,-1.10),
    (148.5,-0.20),(148.9,-0.75),(149.2,0.15),(149.6,-1.35),(150.0,-0.45),(150.3,0.40),(150.7,-0.95),(151.1,-1.55),(151.4,-0.10),(151.8,-0.60),
    (152.2,0.20),(152.5,-1.25),(152.9,-0.40),(153.3,-0.85),(153.6,0.35),(154.0,-1.70),(154.4,-0.25),(154.7,-0.70),(155.1,0.10),(155.5,-1.05),
    (155.8,-0.50),(156.2,0.45),(156.6,-1.45),(156.9,-0.15),(157.3,-0.80),(157.7,0.25),(158.0,-1.15),(158.4,-0.35),(158.8,-1.90),(159.1,0.30),
    (159.5,-0.60),(159.9,-1.00),(160.2,0.05),(160.6,-0.45),(161.0,-1.30),(161.3,0.50),(161.7,-0.20),(162.1,-0.85),(162.4,0.15),(162.8,-1.50),
    (163.2,-0.40),(163.5,0.35),(163.9,-0.95),(164.3,-0.10),(164.6,-1.20),(165.0,0.20),(165.4,-0.65),(165.7,-1.60),(166.1,-0.30),(166.5,0.40),
    (166.8,-0.80),(167.2,-1.35),(167.6,0.05),(167.9,-0.55),(168.3,-1.05),(168.7,0.30),(169.0,-0.35),(169.4,-1.45),(169.8,0.10),(170.1,-0.70),
    (170.5,-0.20),(170.9,-1.10),
    (141.4,-0.95),(142.1,-0.40),(142.8,-1.45),(143.6,0.20),(144.3,-0.55),(145.0,-1.00),(145.8,-0.25),(146.5,0.50),(147.2,-1.30),(148.0,-0.60),
    (148.7,0.35),(149.4,-0.95),(150.2,-0.30),(150.9,-1.75),(151.6,0.25),(152.4,-0.75),(153.1,-1.45),(153.8,-0.10),(154.6,0.45),(155.3,-1.25),
    (156.0,-0.35),(156.8,-0.90),(157.5,0.50),(158.2,-0.55),(159.0,-1.40),(159.7,0.15),(160.4,-0.80),(161.2,-1.65),(161.9,0.35),(162.6,-0.40),
    (163.4,-1.10),(164.1,0.55),(164.8,-0.60),(165.6,-1.30),(166.3,0.10),(167.0,-0.95),(167.8,-0.25),(168.5,0.60),(169.2,-1.20),(170.0,-0.45),
    (170.7,0.30),
]

# ---- segmented (smoothed) log R trend, one list per contiguous run ----
trend_sample1 = [
    [(0, 0.74), (4.8, 0.59), (10.6, 0.49), (16.3, 0.44), (18.0, 0.34), (20.9, 0.20), (28.8, 0.22)],
    [(30.3, 0.22), (32.2, 0.10), (36.3, -0.11)],
    [(38.6, -0.18), (39.4, -0.19)],
    [(41.1, -0.25), (44.9, -0.33), (46.3, -0.54), (48.8, -0.54), (50.6, -0.45), (56.2, -0.21), (62.0, -0.06),
     (64.3, 0.06), (70.6, -0.02), (72.3, -0.09), (78.0, -0.06), (82.6, -0.21), (86.6, -0.15), (89.6, -0.10),
     (97.7, -0.05), (100.6, -0.11)],
    [(101.5, -0.13), (106.8, -0.13), (108.0, -0.25)],
    [(110.2, -0.23), (114.8, -0.35), (118.3, -0.32), (125.1, -0.41)],
    [(127.4, -0.41), (129.6, -0.38), (134.2, -0.50), (138.8, -0.68)],
    [(141.1, -0.74), (142.8, -0.65), (146.9, -0.61), (152.5, -0.65), (158.2, -0.65), (162.8, -0.52), (171.1, -0.52)],
]
trend_sample2 = [
    [(0, 0.59), (4.8, 0.49), (12.1, 0.44), (16.3, 0.44), (18.0, 0.34), (20.9, 0.20), (21.8, 0.22), (28.8, 0.28)],
    [(30.3, 0.24), (32.2, 0.16), (36.3, -0.09)],
    [(38.6, -0.17), (39.4, -0.19)],
    [(41.1, -0.27), (44.9, -0.39), (46.0, -0.54), (48.8, -0.48), (50.6, -0.43), (56.2, -0.21), (60.8, 0.01),
     (63.7, 0.06), (70.6, -0.02), (73.5, -0.09), (82.6, -0.11), (86.6, -0.18), (89.6, -0.15), (97.7, -0.03),
     (100.6, -0.12)],
    [(101.6, -0.13), (106.8, -0.13), (108.5, -0.27)],
    [(110.2, -0.21), (113.6, -0.34), (118.3, -0.40), (125.1, -0.46)],
    [(127.4, -0.40), (131.5, -0.48), (134.2, -0.52), (138.8, -0.70)],
    [(141.1, -0.76), (143.5, -0.68), (152.5, -0.64), (158.2, -0.64), (162.0, -0.55), (164.0, -0.49), (171.1, -0.52)],
]
trend_sample3 = [
    [(0, 0.50), (8.0, 0.45), (17.0, 0.38), (21.0, 0.25), (28.8, 0.20)],
    [(30.3, 0.15), (33.0, 0.05), (36.3, -0.10)],
    [(38.6, -0.20), (39.4, -0.22)],
    [(41.1, -0.28), (44.5, -0.35), (46.0, -0.42), (48.8, -0.40), (50.6, -0.35), (56.0, -0.15), (62.0, 0.0),
     (67.0, 0.05), (75.0, 0.0), (85.0, -0.05), (97.0, -0.05), (100.6, -0.10)],
    [(101.5, -0.10), (106.8, -0.15), (108.0, -0.20)],
    [(110.2, -0.22), (118.0, -0.30), (125.0, -0.38)],
    [(127.4, -0.38), (134.0, -0.45), (138.8, -0.50)],
    [(141.1, -0.60), (145.0, -0.50), (155.0, -0.50), (162.0, -0.45), (171.1, -0.50)],
]

# ---- highlighted regions (Mb) ----
loss_region = (31.0, 50.6)                       # shaded in every sample
sample_gain_regions = [[], [(12.3, 21.6), (141.4, 162.1)], []]

# ---- chromosome 6 ideogram: (start Mb, end Mb, stain, label) ----
ideogram_bands = [
    (0.0, 1.9, "o", ""), (1.9, 4.0, "t", ""), (4.0, 6.9, "o", ""), (6.9, 10.3, "b", ""),
    (10.3, 13.2, "t", ""), (13.2, 15.5, "o", ""), (15.5, 23.4, "n", "p22.3"), (23.4, 25.8, "o", ""),
    (25.8, 29.9, "b", ""), (29.9, 31.6, "o", ""), (31.6, 33.5, "t", ""), (33.5, 37.0, "o", ""),
    (37.0, 40.6, "t", ""), (40.6, 45.2, "o", ""), (45.2, 51.1, "k", "p12.3"), (51.1, 52.6, "o", ""),
    (52.6, 57.4, "k", ""), (57.4, 58.6, "o", ""), (58.6, 60.2, "c", ""),
    (61.0, 63.6, "c", ""), (63.6, 70.2, "k", "q12"), (70.2, 76.2, "o", "q13"), (76.2, 84.1, "b", "q14.1"),
    (84.1, 84.8, "o", ""), (84.8, 87.5, "b", ""), (87.5, 92.0, "o", "q15"), (92.0, 99.6, "k", "q16.1"),
    (99.6, 100.1, "o", ""), (100.1, 104.9, "k", "q16.3"), (104.9, 114.0, "o", "q21"), (114.0, 117.4, "n", ""),
    (117.4, 118.8, "o", ""), (118.8, 126.6, "k", "q22.31"), (126.6, 127.6, "o", ""), (127.6, 131.5, "n", ""),
    (131.5, 135.3, "b", ""), (135.3, 139.5, "o", ""), (139.5, 143.2, "n", ""), (143.2, 146.2, "o", ""),
    (146.2, 149.6, "n", ""), (149.6, 153.0, "o", ""), (153.0, 156.0, "b", ""), (156.0, 161.5, "o", "q25.3"),
    (161.5, 164.9, "b", "q26"), (164.9, 171.1, "o", "q27"),
]
p_arm = (0.0, 60.2)
q_arm = (61.0, 171.1)
stain_fill = {"o": "#808000", "t": "#5F9EA0", "b": "#4169E1", "n": "#191970", "k": "#000000", "c": "#8B0000"}
stain_text = {"o": "#1A1A80", "t": "#FFFFFF", "b": "#FFFFFF", "n": "#FFFFFF", "k": "#FFFFFF", "c": "#FFFFFF"}

# cytogenetic bands inside the zoomed window
window_bands = [(VIEW_START, 45.2, "o", "p21.1"), (45.2, VIEW_END, "k", "p12.3")]

# ---- gene track: (row, name, label start Mb, kind, exon positions Mb, colour) ----
GENE = "#2F4F4F"
genes = [
    (1, "VEGFA", 43.933, "m", [43.853], GENE), (1, "CAPN11", 44.337, "m", [44.251], GENE),
    (1, "BX647715", 44.900, "t", [44.809], GENE),
    (1, "RUNX2", 45.721, "g", [45.403, 45.440, 45.470, 45.495, 45.540, 45.575, 45.611], GENE),
    (1, "ENPP4", 46.309, "m", [46.211], GENE),
    (1, "CYP39A1", 46.823, "g", [46.634, 46.660, 46.690, 46.738], GENE),
    (1, "TNFRSF21", 47.466, "g", [47.307, 47.320, 47.381], GENE),
    (1, "C6orf138", 48.220, "g", [47.950, 48.055, 48.090, 48.146], GENE),
    (1, "MUT", 49.628, "m", [49.506], GENE), (1, "", None, "t", [49.848], GENE),

    (2, "VEGFA", 43.933, "m", [43.853], GENE), (2, "SLC29A1", 44.386, "m", [44.294], GENE),
    (2, "SUPT3H", 45.543, "g", [44.882, 44.910, 44.935, 44.960, 44.975, 45.000, 45.020, 45.060, 45.120,
                               45.190, 45.260, 45.330, 45.400, 45.458], GENE),
    (2, "CLIC5", 46.205, "g", [45.966, 45.980, 45.990, 46.000, 46.020, 46.101], GENE),
    (2, "BC042616", 46.689, "g", [46.572, 46.603], GENE),
    (2, "GPR110", 47.197, "m", [47.099], GENE),
    (2, "CD2AP", 47.785, "g", [47.552, 47.570, 47.590, 47.610, 47.630, 47.650, 47.670, 47.693], GENE),
    (2, "MUT", 49.628, "m", [49.512], "#4682B4"), (2, "", None, "m", [49.893], GENE),

    (3, "VEGFA", 43.933, "m", [43.853], GENE), (3, "SLC29A1", 44.386, "m", [44.294], GENE),
    (3, "SUPT3H", 45.543, "g", [44.894, 44.930, 44.960, 44.975, 44.990, 45.020, 45.060, 45.130, 45.200,
                               45.270, 45.340, 45.409], GENE),
    (3, "CLIC5", 46.254, "g", [45.966, 45.980, 45.995, 46.010, 46.113], GENE),
    (3, "CYP39A1", 46.823, "g", [46.634, 46.660, 46.690, 46.738], GENE),
    (3, "GPR111", 47.846, "m", [47.736], GENE), (3, "CENPQ", 49.643, "m", [49.555], GENE),

    (4, "VEGFA", 43.933, "m", [43.853], GENE), (4, "SLC29A1", 44.386, "m", [44.300], GENE),
    (4, "SUPT3H", 45.543, "g", [44.894, 44.930, 44.960, 44.975, 44.990, 45.020, 45.060, 45.130, 45.200,
                               45.270, 45.340, 45.445], GENE),
    (4, "CLIC5", 46.150, "m", [46.039], GENE), (4, "SLC25A27", 46.836, "m", [46.744], GENE),
    (4, "GPR111", 47.858, "m", [47.748], GENE), (4, "GLYATL3", 49.738, "m", [49.591], GENE),

    (5, "VEGFA", 43.933, "m", [43.853], GENE), (5, "SLC29A1", 44.386, "m", [44.300], GENE),
    (5, "RUNX2", 45.721, "g", [45.403, 45.440, 45.470, 45.495, 45.540, 45.575, 45.611], GENE),
    (5, "ENPP5", 46.309, "m", [46.235], GENE), (5, "SLC25A27", 46.836, "m", [46.744], GENE),
    (5, "GPR111", 47.846, "m", [47.736], GENE), (5, "C6orf141", 49.726, "t", [49.634], GENE),

    (6, "VEGFA", 43.933, "m", [43.853], GENE), (6, "SLC29A1", 44.386, "m", [44.300], GENE),
    (6, "RUNX2", 45.500, "t", [45.415], GENE),
    (6, "CLIC5", 46.174, "g", [45.880, 45.900, 45.915, 45.990], GENE),
    (6, "SLC25A27", 46.836, "m", [46.744], GENE), (6, "GPR115", 47.877, "m", [47.766], GENE),
    (6, "RHAG", 49.787, "m", [49.696], GENE),

    (7, "VEGFA", 43.933, "m", [43.853], GENE), (7, "SLC29A1", 44.386, "m", [44.300], GENE),
    (7, "RUNX2", 45.721, "g", [45.494, 45.505, 45.574], GENE),
    (7, "ENPP5", 46.309, "m", [46.235], GENE), (7, "TDRD6", 46.860, "m", [46.768], GENE),
    (7, "GPR115", 47.877, "m", [47.779], GENE), (7, "Rh50", 49.787, "m", [49.696], GENE),

    (8, "VEGFA", 43.933, "m", [43.853], GENE), (8, "HSP90AB1", 44.404, "m", [44.325], GENE),
    (8, "UNQ550", 46.309, "m", [46.235], GENE), (8, "TDRD6", 46.860, "m", [46.768], GENE),
    (8, "GPR115", 47.877, "m", [47.779], GENE), (8, "RHAG", 49.787, "m", [49.696], GENE),

    (9, "VEGFA", 43.933, "m", [43.853], GENE), (9, "HSP90AB1", 44.404, "m", [44.325], GENE),
    (9, "RCAN2", 46.468, "g", [46.230, 46.260, 46.290, 46.320, 46.350], GENE),
    (9, "GPR116", 47.068, "m", [46.952], GENE), (9, "OPN5", 47.950, "m", [47.858], GENE),
]

# ------------------------------------------------------------------
PANEL_PX = [(23, 133), (160, 270), (297, 406)]
TITLE_PX = [12, 150, 288]
all_points = [sample1_points, sample2_points, sample3_points]
all_trends = [trend_sample1, trend_sample2, trend_sample3]

fig = go.Figure()
shapes = []
annotations = []
layout = dict(
    width=W, height=H, margin=dict(l=0, r=0, t=0, b=0, pad=0, autoexpand=False),
    paper_bgcolor="white", plot_bgcolor="white", showlegend=False,
    font=dict(family=FONT, size=11, color="#222222"),
)


def note(text, x, y, xref="paper", yref="paper", size=11, color="#222222", family=None):
    f = dict(size=size, color=color)
    if family:
        f["family"] = family
    annotations.append(dict(text=text, xref=xref, yref=yref, x=x, y=y, showarrow=False,
                            xanchor="center", yanchor="middle", font=f))


for i in range(3):
    ax = "" if i == 0 else str(i + 1)
    top, bot = PANEL_PX[i]
    layout["xaxis" + ax] = dict(
        domain=[fx(110), fx(1108)], range=[0, CHROM_LEN], anchor="y" + ax, automargin=False,
        showticklabels=False, ticks="", showgrid=False, zeroline=False,
        showline=True, mirror=True, linecolor="#3A3A3A", linewidth=1,
    )
    layout["yaxis" + ax] = dict(
        domain=[fy(bot), fy(top)], range=[-2, 2], anchor="x" + ax, automargin=False,
        tickvals=[2, 1, 0, -1, -2], ticktext=["2.00", "1.00", "0.00", "-1.00", "-2.00"],
        ticks="outside", ticklen=3, tickcolor="#333333", tickfont=dict(size=11, color="#222222"),
        showgrid=False, zeroline=False, showline=True, mirror=True, linecolor="#3A3A3A", linewidth=1,
        title=dict(text="Log R Ratio", font=dict(size=11, color="#222222"), standoff=6),
    )
    pts = all_points[i]
    fig.add_trace(go.Scatter(
        x=[p[0] for p in pts], y=[p[1] for p in pts], mode="markers",
        marker=dict(symbol="square", size=3, color="#0000FF", line=dict(width=0)),
        xaxis="x" + ax, yaxis="y" + ax, hoverinfo="skip",
    ))
    tx, ty = [], []
    for seg in all_trends[i]:
        tx += [p[0] for p in seg] + [None]
        ty += [p[1] for p in seg] + [None]
    fig.add_trace(go.Scatter(
        x=tx, y=ty, mode="lines", line=dict(color="#FF0000", width=3),
        xaxis="x" + ax, yaxis="y" + ax, hoverinfo="skip",
    ))
    # translucent region overlays
    shapes.append(dict(type="rect", xref="x" + ax, yref="y" + ax + " domain",
                       x0=loss_region[0], x1=loss_region[1], y0=0, y1=1,
                       fillcolor="#FF8C00", opacity=0.45, line=dict(width=0), layer="above"))
    for g0, g1 in sample_gain_regions[i]:
        shapes.append(dict(type="rect", xref="x" + ax, yref="y" + ax + " domain",
                           x0=g0, x1=g1, y0=0, y1=1,
                           fillcolor="#006400", opacity=0.5, line=dict(width=0), layer="above"))
    note(sample_titles[i], fx(609), fy(TITLE_PX[i]))

# ---- ideogram ----
layout["xaxis4"] = dict(domain=[fx(112), fx(1107)], range=[0, CHROM_LEN], anchor="y4", visible=False, automargin=False)
layout["yaxis4"] = dict(domain=[fy(465), fy(443)], range=[0, 1], anchor="x4", visible=False, automargin=False)
for b0, b1, st, lab in ideogram_bands:
    shapes.append(dict(type="rect", xref="x4", yref="y4", x0=b0, x1=b1, y0=0, y1=1,
                       fillcolor=stain_fill[st], line=dict(width=0), layer="below"))
    if lab:
        note(lab, (b0 + b1) / 2, 0.5, xref="x4", yref="y4", color=stain_text[st])
for a0, a1 in (p_arm, q_arm):
    shapes.append(dict(type="rect", xref="x4", yref="y4", x0=a0, x1=a1, y0=0, y1=1,
                       line=dict(color="#000000", width=1.2), fillcolor="rgba(0,0,0,0)", layer="above"))
shapes.append(dict(type="line", xref="x4", yref="paper", x0=0, x1=CHROM_LEN, y0=fy(467), y1=fy(467),
                   line=dict(color="#B0B0B0", width=1, dash="dot")))
# selected window on the ideogram
shapes.append(dict(type="rect", xref="x4", yref="paper", x0=VIEW_START, x1=VIEW_END,
                   y0=fy(469), y1=fy(438), line=dict(color="#333399", width=1),
                   fillcolor="rgba(0,0,0,0)", layer="above"))
note("6", fx(66), fy(454), size=14, color="#3333EE")

# zoom fan from the selected window down to the detail table
sel_l = 112 + VIEW_START / CHROM_LEN * 995
sel_r = 112 + VIEW_END / CHROM_LEN * 995
fan = "M {:.4f} {:.4f} L {:.4f} {:.4f} L {:.4f} {:.4f} L {:.4f} {:.4f} Z".format(
    fx(111), fy(498), fx(sel_l - 9), fy(474), fx(sel_r + 14), fy(474), fx(1108), fy(498))
shapes.append(dict(type="path", xref="paper", yref="paper", path=fan,
                   fillcolor="#FFFF00", line=dict(color="#1A1A8C", width=1), layer="below"))

# ---- detail table ----
ROW_PITCH = 16.6      # px between gene rows
FIRST_ROW_PX = 574
TABLE_L, TABLE_R, TABLE_T, TABLE_B = 11, 1108, 499, 704
ROW_BASE, ROW_BAND, ROW_SEQ = 529, 546, 561

layout["xaxis5"] = dict(domain=[fx(111), fx(1108)], range=[VIEW_START, VIEW_END], anchor="y5",
                        visible=False, automargin=False)
layout["yaxis5"] = dict(domain=[fy(TABLE_B), fy(ROW_SEQ)],
                        range=[1 + (TABLE_B - FIRST_ROW_PX) / ROW_PITCH, 1 + (ROW_SEQ - FIRST_ROW_PX) / ROW_PITCH],
                        anchor="x5", visible=False, automargin=False)


def hline(py, x0=TABLE_L, x1=TABLE_R, color="#000000", width=1):
    shapes.append(dict(type="line", xref="paper", yref="paper", x0=fx(x0), x1=fx(x1),
                       y0=fy(py), y1=fy(py), line=dict(color=color, width=width), layer="above"))


def vline(px, y0, y1, color="#000000", width=1):
    shapes.append(dict(type="line", xref="paper", yref="paper", x0=fx(px), x1=fx(px),
                       y0=fy(y0), y1=fy(y1), line=dict(color=color, width=width), layer="above"))


shapes.append(dict(type="rect", xref="paper", yref="paper", x0=fx(TABLE_L), x1=fx(TABLE_R),
                   y0=fy(TABLE_B), y1=fy(TABLE_T), fillcolor="white", line=dict(width=0), layer="below"))

# cytogenetic band row
for b0, b1, st, lab in window_bands:
    shapes.append(dict(type="rect", xref="x5", yref="paper", x0=b0, x1=b1, y0=fy(ROW_BAND), y1=fy(ROW_BASE),
                       fillcolor=stain_fill[st], line=dict(width=0), layer="above"))
    note(lab, (b0 + b1) / 2, fy(538), xref="x5", color=stain_text[st])

# scroll column of the gene track
shapes.append(dict(type="rect", xref="paper", yref="paper", x0=fx(95), x1=fx(111), y0=fy(TABLE_B), y1=fy(ROW_SEQ),
                   fillcolor="#EAF3FC", line=dict(color="#6F8FAF", width=1), layer="above"))
shapes.append(dict(type="rect", xref="paper", yref="paper", x0=fx(95), x1=fx(111), y0=fy(607), y1=fy(ROW_SEQ),
                   fillcolor="#2A8CF0", line=dict(color="#3A6EA5", width=1), layer="above"))
for yy in (581, 583.5, 586):
    hline(yy, 97, 109, color="#1B4F8A", width=1)

# base-position ruler
tick_bp = [TICK_FIRST + k * TICK_STEP for k in range(N_TICKS)]
minor_step = TICK_STEP / 10
k = 0
while VIEW_START * 1e6 + k * minor_step <= VIEW_END * 1e6:
    xm = (VIEW_START * 1e6 + k * minor_step) / 1e6
    shapes.append(dict(type="line", xref="x5", yref="paper", x0=xm, x1=xm, y0=fy(TABLE_T + 3), y1=fy(TABLE_T),
                       line=dict(color="#444444", width=1), layer="above"))
    k += 1
for t in tick_bp:
    xm = t / 1e6
    shapes.append(dict(type="line", xref="x5", yref="paper", x0=xm, x1=xm, y0=fy(TABLE_T + 7), y1=fy(TABLE_T),
                       line=dict(color="#222222", width=1), layer="above"))
    shapes.append(dict(type="line", xref="x5", yref="paper", x0=xm, x1=xm, y0=fy(TABLE_B), y1=fy(521),
                       line=dict(color="#000000", width=1), layer="above"))
    note(f"{t:,}", xm, fy(514), xref="x5", color="#111111")

# table frame
shapes.append(dict(type="rect", xref="paper", yref="paper", x0=fx(TABLE_L), x1=fx(TABLE_R),
                   y0=fy(TABLE_B), y1=fy(TABLE_T), fillcolor="rgba(0,0,0,0)",
                   line=dict(color="#000000", width=1), layer="above"))
hline(TABLE_B + 1.5, color="#A0A0A0", width=3)
hline(ROW_BASE)
hline(ROW_BAND)
hline(ROW_SEQ)
vline(111, TABLE_T, ROW_SEQ)
vline(95, ROW_SEQ, TABLE_B)

row_headers = [("Base Position", 514), ("Cytogenetic Band", 538), ("Sequence (+)", 554)]
for txt, yy in row_headers:
    note(txt, fx(60), fy(yy), color="#111111")
note("No sequence data file found for this chromosome.", fx(609), fy(554), size=14.5, color="#FF0000",
     family="Liberation Mono, Courier New, monospace")

# gene glyphs
body_x, body_y, tick_x, tick_y, thin_x, thin_y = [], [], [], [], [], []
mark_groups = {}
lab_x, lab_y, lab_t, lab_c = [], [], [], []
for row, name, lab_at, kind, ex, col in genes:
    if kind == "g":
        body_x += [min(ex), max(ex), None]
        body_y += [row, row, None]
        for e in ex:
            tick_x += [e, e, None]
            tick_y += [row - 0.27, row + 0.27, None]
    elif kind == "t":
        for e in ex:
            thin_x += [e, e, None]
            thin_y += [row - 0.22, row + 0.22, None]
    else:
        gx, gy = mark_groups.setdefault(col, ([], []))
        for e in ex:
            gx += [e, e, None]
            gy += [row - 0.3, row + 0.3, None]
    if name:
        lab_x.append(lab_at)
        lab_y.append(row)
        lab_t.append(name)
        lab_c.append(col)

fig.add_trace(go.Scatter(x=body_x, y=body_y, mode="lines", line=dict(color=GENE, width=1),
                         xaxis="x5", yaxis="y5", hoverinfo="skip"))
fig.add_trace(go.Scatter(x=tick_x, y=tick_y, mode="lines", line=dict(color=GENE, width=2),
                         xaxis="x5", yaxis="y5", hoverinfo="skip"))
fig.add_trace(go.Scatter(x=thin_x, y=thin_y, mode="lines", line=dict(color=GENE, width=1),
                         xaxis="x5", yaxis="y5", hoverinfo="skip"))
for col, (gx, gy) in mark_groups.items():
    fig.add_trace(go.Scatter(x=gx, y=gy, mode="lines", line=dict(color=col, width=4.5),
                             xaxis="x5", yaxis="y5", hoverinfo="skip"))
fig.add_trace(go.Scatter(x=lab_x, y=lab_y, text=lab_t, mode="text", textposition="middle right",
                         textfont=dict(size=11, color=lab_c, family=FONT), cliponaxis=True,
                         xaxis="x5", yaxis="y5", hoverinfo="skip"))

layout["shapes"] = shapes
layout["annotations"] = annotations
fig.update_layout(**layout)
fig.write_html("out.html")
